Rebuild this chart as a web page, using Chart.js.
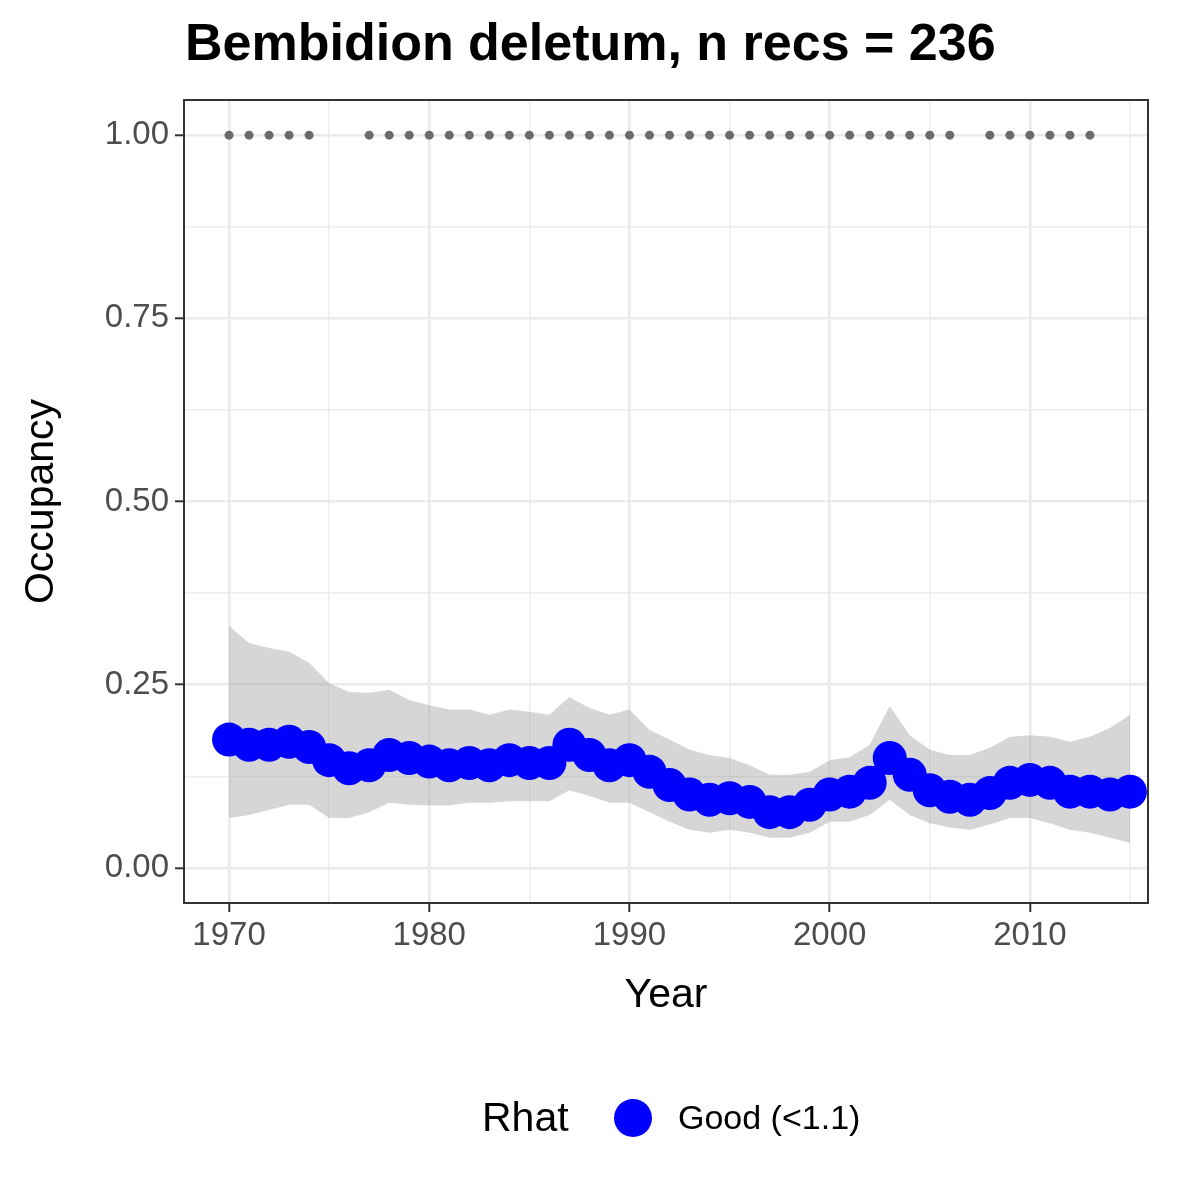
<!DOCTYPE html>
<html>
<head>
<meta charset="utf-8">
<script src="https://cdn.jsdelivr.net/npm/chart.js@4"></script>
<style>
  body { margin: 0; background: #fff; }
  #wrap { width: 1200px; height: 1200px; }
</style>
</head>
<body>
<div id="wrap"><canvas id="c" width="1200" height="1200"></canvas></div>
<script>
const years = [];
for (let y = 1970; y <= 2015; y++) years.push(y);

const occupancy = [0.175, 0.168, 0.168, 0.172, 0.165, 0.147, 0.136, 0.14, 0.154, 0.15,
  0.145, 0.14, 0.143, 0.14, 0.147, 0.143, 0.143, 0.168, 0.154, 0.14,
  0.147, 0.131, 0.113, 0.1, 0.093, 0.095, 0.09, 0.076, 0.076, 0.086,
  0.1, 0.104, 0.116, 0.15, 0.127, 0.106, 0.097, 0.093, 0.102, 0.116,
  0.12, 0.116, 0.104, 0.104, 0.1, 0.104];

const upper = [0.33, 0.307, 0.30, 0.295, 0.28, 0.252, 0.24, 0.239, 0.243, 0.229,
  0.222, 0.216, 0.216, 0.209, 0.216, 0.213, 0.209, 0.233, 0.218, 0.209,
  0.216, 0.188, 0.175, 0.161, 0.154, 0.15, 0.14, 0.127, 0.127, 0.131,
  0.147, 0.151, 0.168, 0.221, 0.181, 0.161, 0.154, 0.154, 0.164, 0.179,
  0.181, 0.179, 0.172, 0.179, 0.191, 0.209];

const lower = [0.068, 0.072, 0.079, 0.086, 0.086, 0.068, 0.068, 0.076, 0.089, 0.086,
  0.085, 0.085, 0.089, 0.089, 0.091, 0.091, 0.091, 0.106, 0.098, 0.089,
  0.089, 0.076, 0.063, 0.052, 0.048, 0.052, 0.048, 0.041, 0.041, 0.048,
  0.063, 0.063, 0.072, 0.093, 0.072, 0.061, 0.055, 0.052, 0.059, 0.068,
  0.068, 0.061, 0.052, 0.048, 0.041, 0.034];

// years with at least one record (rug drawn at occupancy = 1)
const recordYears = [1970, 1971, 1972, 1973, 1974,
  1977, 1978, 1979, 1980, 1981, 1982, 1983, 1984, 1985, 1986, 1987, 1988, 1989, 1990,
  1991, 1992, 1993, 1994, 1995, 1996, 1997, 1998, 1999, 2000, 2001, 2002, 2003, 2004,
  2005, 2006, 2008, 2009, 2010, 2011, 2012, 2013];

const xTicks = [1970, 1980, 1990, 2000, 2010];
const yTicks = [0, 0.25, 0.5, 0.75, 1];

const pts = arr => years.map((y, i) => ({ x: y, y: arr[i] }));

// titles, legend and panel border
const decor = {
  id: "decor",
  afterDraw(chart) {
    const ctx = chart.ctx;
    const a = chart.chartArea;
    ctx.save();
    ctx.strokeStyle = "#333333";
    ctx.lineWidth = 2;
    ctx.strokeRect(a.left, a.top, a.right - a.left, a.bottom - a.top);

    ctx.fillStyle = "#000";
    ctx.font = "bold 52px Arial, 'Liberation Sans'";
    ctx.textBaseline = "middle";
    ctx.textAlign = "left";
    ctx.fillText("Bembidion deletum, n recs = 236", 185, 46);

    ctx.font = "41px Arial, 'Liberation Sans'";
    ctx.textAlign = "center";
    ctx.fillText("Year", (a.left + a.right) / 2, 996);

    ctx.save();
    ctx.translate(42, (a.top + a.bottom) / 2);
    ctx.rotate(-Math.PI / 2);
    ctx.fillText("Occupancy", 0, 0);
    ctx.restore();

    ctx.textAlign = "left";
    ctx.fillText("Rhat", 482, 1120);
    ctx.fillStyle = "#0000ff";
    ctx.beginPath();
    ctx.arc(633, 1118, 19, 0, Math.PI * 2);
    ctx.fill();
    ctx.fillStyle = "#000";
    ctx.font = "34px Arial, 'Liberation Sans'";
    ctx.fillText("Good (<1.1)", 678, 1120);
    ctx.restore();
  }
};

new Chart(document.getElementById("c"), {
  type: "scatter",
  data: {
    datasets: [
      {
        label: "upper",
        data: pts(upper),
        showLine: true,
        pointRadius: 0,
        borderWidth: 0,
        borderColor: "rgba(0,0,0,0)",
        backgroundColor: "rgba(153,153,153,0.4)",
        fill: "+1",
        order: 3
      },
      {
        label: "lower",
        data: pts(lower),
        showLine: true,
        pointRadius: 0,
        borderWidth: 0,
        borderColor: "rgba(0,0,0,0)",
        fill: false,
        order: 3
      },
      {
        label: "Occupancy",
        data: pts(occupancy),
        showLine: true,
        borderColor: "#0000ff",
        borderWidth: 14,
        pointRadius: 17,
        pointBackgroundColor: "#0000ff",
        pointBorderWidth: 0,
        order: 1
      },
      {
        label: "Records",
        data: recordYears.map(y => ({ x: y, y: 1 })),
        pointRadius: 4.5,
        pointBackgroundColor: "#6b6b6b",
        pointBorderWidth: 0,
        order: 2
      }
    ]
  },
  options: {
    responsive: false,
    animation: false,
    layout: { padding: { top: 100, right: 52, left: 0, bottom: 0 } },
    plugins: { legend: { display: false }, tooltip: { enabled: false } },
    scales: {
      x: {
        type: "linear",
        min: 1967.75,
        max: 2015.9,
        afterFit: s => { s.height = 297; },
        afterBuildTicks: s => {
          s.ticks = [1975, 1985, 1995, 2005, 2015].concat(xTicks).map(v => ({ value: v }));
        },
        grid: {
          color: c => (c.tick && c.tick.value % 10 === 0) ? "#ebebeb" : "#ededed",
          lineWidth: c => (c.tick && c.tick.value % 10 === 0) ? 2.6 : 1.4,
          tickColor: c => (c.tick && c.tick.value % 10 === 0) ? "#333333" : "rgba(0,0,0,0)",
          tickLength: 9,
          tickWidth: 2
        },
        border: { display: false },
        ticks: {
          color: "#4d4d4d",
          font: { size: 33, family: "Arial, 'Liberation Sans'" },
          padding: 4,
          maxRotation: 0,
          callback: v => (v % 10 === 0 ? String(v) : "")
        }
      },
      y: {
        min: -0.048,
        max: 1.048,
        afterFit: s => { s.width = 184; },
        afterBuildTicks: s => {
          s.ticks = [0.125, 0.375, 0.625, 0.875].concat(yTicks).map(v => ({ value: v }));
        },
        grid: {
          color: c => (c.tick && yTicks.includes(c.tick.value)) ? "#ebebeb" : "#ededed",
          lineWidth: c => (c.tick && yTicks.includes(c.tick.value)) ? 2.6 : 1.4,
          tickColor: c => (c.tick && yTicks.includes(c.tick.value)) ? "#333333" : "rgba(0,0,0,0)",
          tickLength: 9,
          tickWidth: 2
        },
        border: { display: false },
        ticks: {
          color: "#4d4d4d",
          font: { size: 33, family: "Arial, 'Liberation Sans'" },
          padding: 6,
          callback: v => (yTicks.includes(v) ? v.toFixed(2) : "")
        }
      }
    }
  },
  plugins: [decor]
});
</script>
</body>
</html>
